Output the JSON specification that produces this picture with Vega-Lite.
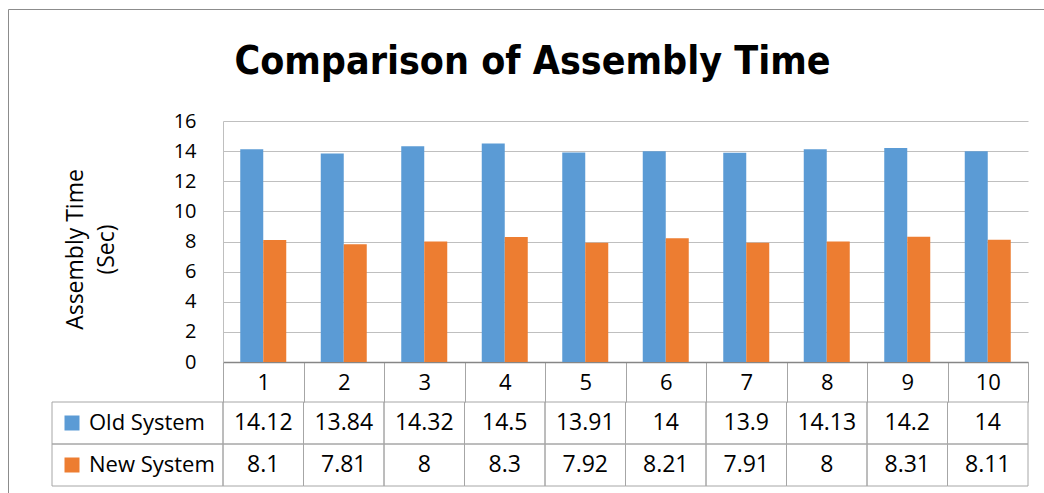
{
  "$schema": "https://vega.github.io/schema/vega-lite/v6.json",
  "width": 1039,
  "height": 487,
  "autosize": "none",
  "padding": {"left": 8, "top": 9, "right": -3, "bottom": -3},
  "background": "white",
  "title": {
    "text": "Comparison of Assembly Time",
    "font": "DejaVu Sans Condensed",
    "fontSize": 39,
    "fontWeight": "bold",
    "color": "#000000",
    "anchor": "middle",
    "frame": "group",
    "orient": "top",
    "baseline": "alphabetic",
    "offset": -104,
    "dx": 5
  },
  "config": {
    "view": {"stroke": "#8C8C8C", "strokeWidth": 1},
    "font": "Open Sans",
    "axis": {"labelFont": "Open Sans", "titleFont": "Open Sans"},
    "legend": {"labelFont": "Open Sans"}
  },
  "data": {
    "values": [
      {"Trial": 1, "Old System": 14.12, "New System": 8.1},
      {"Trial": 2, "Old System": 13.84, "New System": 7.81},
      {"Trial": 3, "Old System": 14.32, "New System": 8},
      {"Trial": 4, "Old System": 14.5, "New System": 8.3},
      {"Trial": 5, "Old System": 13.91, "New System": 7.92},
      {"Trial": 6, "Old System": 14, "New System": 8.21},
      {"Trial": 7, "Old System": 13.9, "New System": 7.91},
      {"Trial": 8, "Old System": 14.13, "New System": 8},
      {"Trial": 9, "Old System": 14.2, "New System": 8.31},
      {"Trial": 10, "Old System": 14, "New System": 8.11}
    ]
  },
  "transform": [{"fold": ["Old System", "New System"], "as": ["System", "Time"]}],
  "layer": [
    {
      "mark": {"type": "bar"},
      "encoding": {
        "x": {
          "field": "Trial",
          "type": "ordinal",
          "scale": {"range": [215, 1020], "paddingInner": 0, "paddingOuter": 0},
          "axis": {
            "orient": "bottom",
            "offset": -134,
            "title": null,
            "grid": false,
            "domainColor": "#868686",
            "domainWidth": 1.5,
            "tickBand": "extent",
            "tickSize": 40,
            "tickColor": "#A6A6A6",
            "tickWidth": 1,
            "labelAngle": 0,
            "labelFontSize": 22,
            "labelColor": "#000000",
            "labelBaseline": "middle",
            "labelPadding": -20
          }
        },
        "xOffset": {
          "field": "System",
          "type": "nominal",
          "scale": {"domain": ["Old System", "New System"], "paddingInner": 0, "paddingOuter": 0.75}
        },
        "y": {
          "field": "Time",
          "type": "quantitative",
          "scale": {"domain": [0, 16], "range": [353, 112], "nice": false},
          "axis": {
            "orient": "left",
            "offset": -215,
            "values": [0, 2, 4, 6, 8, 10, 12, 14, 16],
            "grid": true,
            "gridColor": "#BFBFBF",
            "gridWidth": 1,
            "ticks": false,
            "domainColor": "#BFBFBF",
            "labelFontSize": 20,
            "labelColor": "#000000",
            "labelPadding": 27,
            "title": ["Assembly Time", "(Sec)"],
            "titleFontSize": 23,
            "titleFontWeight": "normal",
            "titleColor": "#000000",
            "titleLineHeight": 31,
            "titlePadding": 55,
            "titleY": 240
          }
        },
        "color": {
          "field": "System",
          "type": "nominal",
          "scale": {"domain": ["Old System", "New System"], "range": ["#5B9BD5", "#ED7D31"]},
          "legend": {
            "orient": "none",
            "legendX": 53,
            "legendY": 403,
            "title": null,
            "symbolType": "square",
            "symbolSize": 225,
            "symbolStrokeWidth": 0,
            "symbolOpacity": 1,
            "labelFontSize": 22,
            "labelColor": "#000000",
            "labelOffset": 6,
            "rowPadding": 20,
            "padding": 0
          }
        }
      }
    },
    {
      "mark": {"type": "rect", "fill": "white", "fillOpacity": 0, "stroke": "#A6A6A6", "strokeWidth": 1},
      "encoding": {
        "x": {"field": "Trial", "type": "ordinal", "scale": {"range": [215, 1020], "paddingInner": 0, "paddingOuter": 0}, "axis": null},
        "y": {"field": "System", "type": "nominal", "scale": {"domain": ["Old System", "New System"], "range": [393, 477], "paddingInner": 0, "paddingOuter": 0}, "axis": null}
      }
    },
    {
      "mark": {"type": "text", "fontSize": 23, "font": "Open Sans", "color": "#000000", "baseline": "middle"},
      "encoding": {
        "x": {"field": "Trial", "type": "ordinal", "scale": {"range": [215, 1020], "paddingInner": 0, "paddingOuter": 0}, "axis": null},
        "y": {"field": "System", "type": "nominal", "scale": {"domain": ["Old System", "New System"], "range": [393, 477], "paddingInner": 0, "paddingOuter": 0}, "axis": null},
        "text": {"field": "Time", "type": "nominal"}
      }
    },
    {
      "transform": [{"aggregate": [{"op": "count", "as": "n"}], "groupby": ["System"]}],
      "mark": {"type": "rect", "fill": "white", "fillOpacity": 0, "stroke": "#A6A6A6", "strokeWidth": 1},
      "encoding": {
        "x": {"datum": "label", "type": "nominal", "scale": {"domain": ["label"], "range": [44, 215], "paddingInner": 0, "paddingOuter": 0}, "axis": null},
        "y": {"field": "System", "type": "nominal", "scale": {"domain": ["Old System", "New System"], "range": [393, 477], "paddingInner": 0, "paddingOuter": 0}, "axis": null}
      }
    }
  ],
  "resolve": {"scale": {"x": "independent", "y": "independent"}}
}
